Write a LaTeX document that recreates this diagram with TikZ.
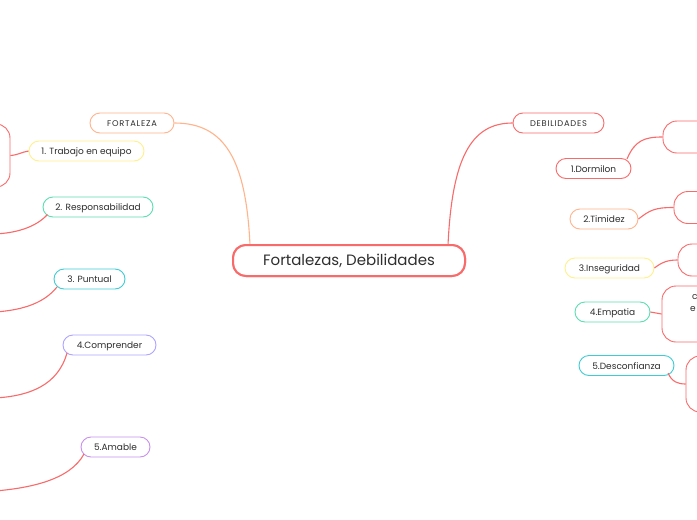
\documentclass[tikz,border=0pt]{standalone}
\usepackage{fontspec}
\setmainfont{Poppins}
\newfontfamily\spacedfont[LetterSpace=9]{Poppins}
\definecolor{cred}{HTML}{F96A6A}
\definecolor{corange}{HTML}{FFB48C}
\definecolor{cyellow}{HTML}{FFF08C}
\definecolor{cgreen}{HTML}{5CDDB2}
\definecolor{ccyan}{HTML}{3ECCD6}
\definecolor{clav}{HTML}{ACA4FF}
\definecolor{cpurp}{HTML}{C890EC}
\definecolor{ctext}{HTML}{2E2E2E}
\tikzset{
  pill/.style={draw=#1, line width=0.9pt, rounded corners=10pt, minimum height=20pt,
    inner xsep=6pt, font=\fontsize{9}{10}\selectfont, text=ctext, fill=white,
    text height=8pt, text depth=1pt},
  central/.style={draw=cred, line width=2pt, rounded corners=13pt, minimum height=31pt,
    minimum width=232pt, font=\fontsize{15}{17}\selectfont, text=ctext, fill=white,
    text height=12pt, text depth=2pt},
  offbox/.style={draw=cred, line width=0.9pt, rounded corners=14pt, fill=white},
  link/.style={draw=#1, line width=1.1pt},
}
\begin{document}
\begin{tikzpicture}[x=1pt,y=-1pt]
\useasboundingbox (0,0) rectangle (697,520);
\fill[white] (0,0) rectangle (697,520);
\clip (0,0) rectangle (697,520);

% nodes
\node[central] (c) at (349,260.5) {Fortalezas, Debilidades};
\node[pill=corange, minimum width=84pt] (f) at (132,123) {\spacedfont\fontsize{8.3}{10}\selectfont FORTALEZA};
\node[pill=cred, minimum width=91pt] (d) at (558.5,123) {\spacedfont\fontsize{8.3}{10}\selectfont DEBILIDADES};

\node[pill=cyellow, minimum width=115pt] (f1) at (86.5,151) {1. Trabajo en equipo};
\node[pill=cgreen, minimum width=110pt] (f2) at (98,207) {2. Responsabilidad};
\node[pill=ccyan, minimum width=71pt] (f3) at (89.5,279) {3. Puntual};
\node[pill=clav, minimum width=93pt] (f4) at (109.5,345) {4.Comprender};
\node[pill=cpurp, minimum width=69pt] (f5) at (115.5,447) {5.Amable};

\node[pill=cred, minimum width=75pt] (d1) at (593.5,168.5) {1.Dormilon};
\node[pill=corange, minimum width=68pt] (d2) at (604,219) {2.Timidez};
\node[pill=cyellow, minimum width=89pt] (d3) at (609.5,268) {3.Inseguridad};
\node[pill=cgreen, minimum width=75pt] (d4) at (612.5,312) {4.Empatia};
\node[pill=ccyan, minimum width=95pt] (d5) at (626.5,365.5) {5.Desconfianza};

% off-canvas boxes
\node[offbox, minimum width=100pt, minimum height=63pt] (b1) at (-40,155.5) {};
\node[offbox, minimum width=100pt, minimum height=32pt] (e1) at (713,137) {};
\node[offbox, minimum width=100pt, minimum height=32pt] (e2) at (724,207.5) {};
\node[offbox, minimum width=100pt, minimum height=32pt] (e3) at (728,260) {};
\node[offbox, minimum width=100pt, minimum height=56pt] (e4) at (712,314) {};
\node[offbox, minimum width=100pt, minimum height=56pt] (e5) at (736,384) {};
\node[text=ctext, font=\fontsize{9}{10}\selectfont, anchor=west, inner sep=0pt] (t1) at (692,297) {c};
\node[text=ctext, font=\fontsize{9}{10}\selectfont, anchor=west, inner sep=0pt] (t2) at (690,309) {e};

\coordinate (l2) at (-5,234);
\coordinate (l3) at (-5,312);
\coordinate (l4) at (-5,398);
\coordinate (l5) at (-5,491);

% connectors
\draw[link=corange] (250,245) .. controls (246,160) and (225,123) .. (f.east);
\draw[link=cred] (448,245) .. controls (452,160) and (470,123) .. (d.west);

\draw[link=cred] (b1.east) .. controls (18,155) and (22,152) .. (f1.west);
\draw[link=cred] (47.5,214.5) .. controls (35,228) and (15,233) .. (l2);
\draw[link=cred] (57,287) .. controls (45,302) and (25,310) .. (l3);
\draw[link=cred] (67,353) .. controls (58,385) and (30,396) .. (l4);
\draw[link=cred] (84,454) .. controls (70,480) and (30,488) .. (l5);

\draw[link=cred] (627,159) .. controls (635,140) and (645,137) .. (e1.west);
\draw[link=cred] (d2.east) .. controls (650,210) and (655,207.5) .. (e2.west);
\draw[link=cred] (d3.east) .. controls (662,262) and (668,260) .. (e3.west);
\draw[link=cred] (d4.east) -- (e4.west);
\draw[link=cred] (668,373) .. controls (672,382) and (678,384) .. (e5.west);

% redraw central node on top of connectors
\node[central] at (c) {Fortalezas, Debilidades};
\end{tikzpicture}
\end{document}
